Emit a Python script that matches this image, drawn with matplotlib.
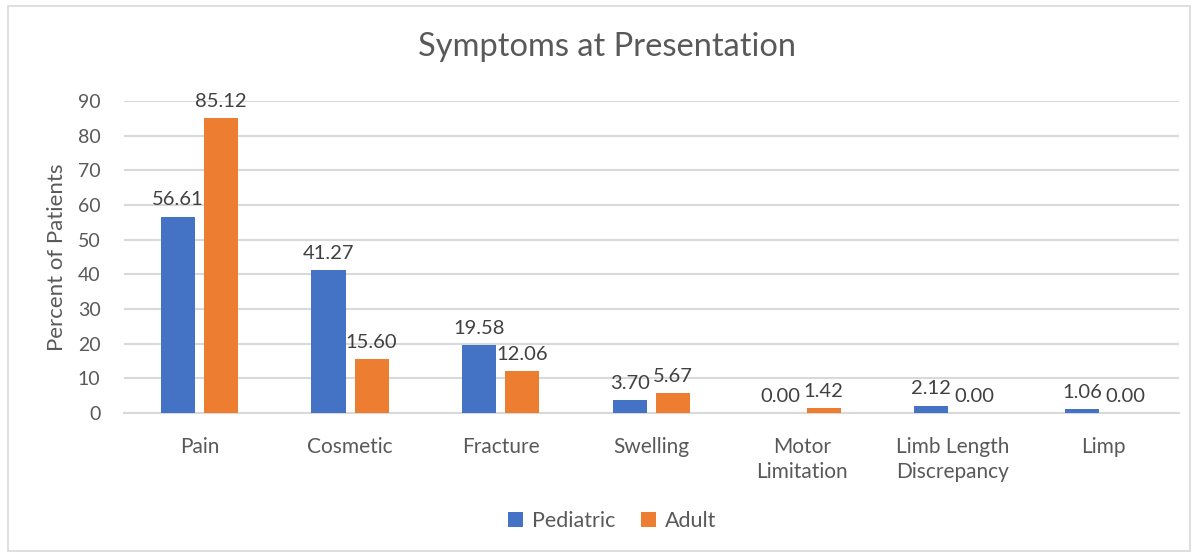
import matplotlib
matplotlib.use("Agg")
import matplotlib.pyplot as plt
import numpy as np
from matplotlib.patches import Rectangle

categories = ["Pain", "Cosmetic", "Fracture", "Swelling", "Motor\nLimitation",
              "Limb Length\nDiscrepancy", "Limp"]
pediatric = [56.61, 41.27, 19.58, 3.70, 0.00, 2.12, 1.06]
adult = [85.12, 15.60, 12.06, 5.67, 1.42, 0.00, 0.00]
yticks = [0, 10, 20, 30, 40, 50, 60, 70, 80, 90]

BLUE = "#4472C4"
ORANGE = "#ED7D31"
TXT = "#595959"
GRID = "#D9D9D9"

plt.rcParams['font.family'] = ['Lato', 'DejaVu Sans']

fig = plt.figure(figsize=(12.01, 5.54), dpi=100)
fig.patches.append(Rectangle((8/1201, 1-551/554), 1182/1201, 545/554,
                             transform=fig.transFigure, fill=False,
                             edgecolor="#D9D9D9", linewidth=1.2))
ax = fig.add_axes([124/1201, 1-413/554, (1179-124)/1201, (413-101)/554])

x = np.arange(len(categories))
w = 0.226
off = 0.143
b1 = ax.bar(x - off, pediatric, w, color=BLUE, label="Pediatric", zorder=3)
b2 = ax.bar(x + off, adult, w, color=ORANGE, label="Adult", zorder=3)

for bars, vals in ((b1, pediatric), (b2, adult)):
    for r, v in zip(bars, vals):
        ax.annotate(f"{v:.2f}", (r.get_x() + r.get_width()/2, v),
                    xytext=(0, 6), textcoords="offset points",
                    ha="center", va="bottom", fontsize=14.5, color="#404040")

ax.set_xlim(-0.5, len(categories) - 0.5)
ax.set_ylim(0, 90)
ax.set_yticks(yticks)
ax.yaxis.grid(True, color=GRID, linewidth=1.5, zorder=0)
ax.set_axisbelow(True)
for s in ["top", "right", "left"]:
    ax.spines[s].set_visible(False)
ax.spines["bottom"].set_color(GRID)
ax.spines["bottom"].set_linewidth(1.5)
ax.tick_params(axis="both", length=0, colors=TXT)
ax.tick_params(axis="y", pad=17, labelsize=14)
ax.tick_params(axis="x", pad=17, labelsize=15)
ax.set_xticks(x)
ax.set_xticklabels(categories, linespacing=1.35)
ax.set_ylabel("Percent of Patients", fontsize=16, color=TXT, labelpad=8)

fig.text(607/1201, 1-47/554, "Symptoms at Presentation", ha="center",
         va="center", fontsize=23.5, color=TXT)

leg = fig.legend(handles=[b1, b2], labels=["Pediatric", "Adult"],
                 loc="center", bbox_to_anchor=(612/1201, 1-521/554), ncol=2,
                 frameon=False, fontsize=15.5, handlelength=0.7, handleheight=0.7,
                 handletextpad=0.4, columnspacing=1.2)
for t in leg.get_texts():
    t.set_color(TXT)

fig.savefig("out.png", dpi=100)
